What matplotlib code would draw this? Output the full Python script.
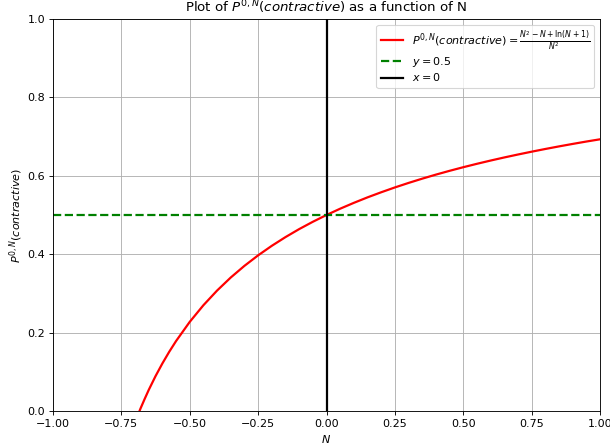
import matplotlib
matplotlib.use("Agg")
import matplotlib.pyplot as plt

# values
n_vals = [-0.70, -0.68, -0.665, -0.65, -0.625, -0.60, -0.575, -0.55, -0.50, -0.45,
          -0.40, -0.35, -0.30, -0.25, -0.20, -0.15, -0.10, -0.05, 0.00,
          0.05, 0.10, 0.15, 0.20, 0.25, 0.30, 0.35, 0.40, 0.45, 0.50,
          0.55, 0.60, 0.65, 0.70, 0.75, 0.80, 0.85, 0.90, 0.95, 1.00]
p_vals = [-0.0285, 0.0064, 0.0305, 0.0537, 0.0891, 0.1214, 0.1511, 0.1785, 0.2274, 0.2699,
          0.3073, 0.3406, 0.3703, 0.3971, 0.4214, 0.4436, 0.4640, 0.4827, 0.5000,
          0.5161, 0.5310, 0.5450, 0.5580, 0.5703, 0.5818, 0.5927, 0.6030, 0.6127, 0.6219,
          0.6306, 0.6389, 0.6468, 0.6543, 0.6615, 0.6684, 0.6750, 0.6813, 0.6874, 0.6931]
y_ref = 0.5
x_ref = 0

# reference looks like a downscaled 100dpi figure, so draw at 80dpi
fig = plt.figure(figsize=(610 / 80, 446 / 80), dpi=80)
ax = fig.add_axes([53 / 610, 35 / 446, 547 / 610, 392 / 446])

ax.plot(n_vals, p_vals, color='red', lw=2,
        label=r'$P^{0,N}(contractive) = \frac{N^2 - N + \ln(N+1)}{N^2}$')
ax.axhline(y_ref, color='green', ls='--', lw=2, label=r'$y = 0.5$')
ax.axvline(x_ref, color='black', lw=2, label=r'$x = 0$')

ax.set_xlim(-1, 1)
ax.set_ylim(0, 1)
ax.set_xlabel(r'$N$')
ax.set_ylabel(r'$P^{0,N}(contractive)$', labelpad=2)
ax.set_title(r'Plot of $P^{0,N}(contractive)$ as a function of N')
ax.grid(True)
ax.legend(loc='upper right', labelspacing=0.25)

fig.savefig('out.png', dpi=80)
